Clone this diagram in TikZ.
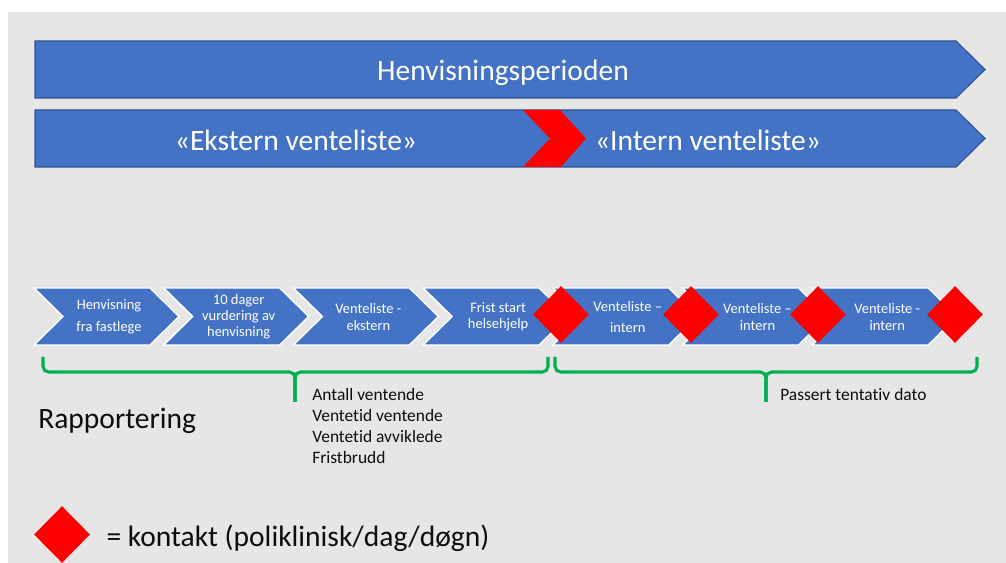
\documentclass[tikz,border=0pt]{standalone}
\usepackage{fontspec}
\setmainfont{Carlito}[Ligatures=NoCommon]
\usetikzlibrary{shapes.geometric,positioning}
\definecolor{hblue}{HTML}{4472C4}
\definecolor{hborder}{HTML}{2F528F}
\definecolor{hgrey}{HTML}{E7E6E6}
\definecolor{hgreen}{HTML}{00B050}
\definecolor{hred}{HTML}{FF0000}
\definecolor{htext}{HTML}{0D0D0D}

\begin{document}
\begin{tikzpicture}[x=0.025cm,y=-0.025cm,
  banner/.style={fill=hblue,draw=hborder,line width=0.8pt},
  bannertext/.style={text=white,font=\fontsize{21}{25}\selectfont,inner sep=0pt,anchor=base},
  chevron/.style={fill=hblue,draw=white,line width=1pt},
  chevtext/.style={text=white,font=\fontsize{10.3}{11.5}\selectfont,align=center,inner sep=0pt},
  kontakt/.style={diamond,fill=hred,minimum width=1.4cm,minimum height=1.42cm,inner sep=0pt},
  brace/.style={draw=hgreen,line width=2.2pt,rounded corners=4pt},
  note/.style={text=htext,inner sep=0pt}]
  \useasboundingbox (0,0) rectangle (1006,563);
  \fill[white] (0,0) rectangle (1006,563);
  \fill[hgrey] (8,12) rectangle (1006,563);

  \draw[banner] (35,41) -- (956,41) -- (985,69.5) -- (956,98) -- (35,98) -- cycle;
  \node[bannertext] (periode) at (503,81) {Henvisningsperioden};
  \draw[banner] (35,110) -- (956,110) -- (985,138.5) -- (956,167) -- (35,167) -- cycle;
  \fill[hred] (523,110) -- (560,110) -- (586,138.5) -- (561,167) -- (523,167) -- (550,138.5) -- cycle;
  \node[bannertext] (ekstern) at (296,151) {«Ekstern venteliste»};
  \node[bannertext] (intern) at (708,151) {«Intern venteliste»};

  \foreach \k/\txt in {0/{Henvisning\\[4pt]fra fastlege},
                       1/{10 dager\\vurdering av\\henvisning},
                       2/{Venteliste -\\ekstern},
                       3/{Frist start\\helsehjelp},
                       4/{Venteliste –\\[4pt]intern},
                       5/{Venteliste –\\intern},
                       6/{Venteliste -\\intern}}
  {
    \pgfmathsetmacro\xa{34+129.7*\k}
    \draw[chevron] (\xa,288) -- ++(116,0) -- ++(29,28.5) -- ++(-29,28.5) -- ++(-116,0) -- ++(29,-28.5) -- cycle;
    \node[chevtext] (steg\k) at (\xa+75,317) {\txt};
  }
  \foreach \i/\x in {1/561,2/691,3/818,4/955}
    \node[kontakt] (kontakt\i) at (\x,314.5) {};

  \draw[brace] (43,357) |- (295,372) -- (295,402);
  \draw[brace] (295,402) -- (295,372) -| (548,357);
  \draw[brace] (555,357) |- (766,372) -- (766,402);
  \draw[brace] (766,402) -- (766,372) -| (977,357);

  \node[note,anchor=base west,font=\fontsize{21}{25}\selectfont] (rapport) at (38,429) {Rapportering};
  \node[note,anchor=north west,align=left,font=\fontsize{12.4}{14.9}\selectfont] (ekstern tall) at (312,388)
    {Antall ventende\\Ventetid ventende\\Ventetid avviklede\\Fristbrudd};
  \node[note,anchor=base west,font=\fontsize{12.4}{14.9}\selectfont] (intern tall) at (780,401) {Passert tentativ dato};

  \node[kontakt] (tegn) at (62,534.5) {};
  \node[note,right=0.4cm of tegn,yshift=-0.1cm,font=\fontsize{21}{25}\selectfont] (forklaring) {= kontakt (poliklinisk/dag/døgn)};
\end{tikzpicture}
\end{document}
